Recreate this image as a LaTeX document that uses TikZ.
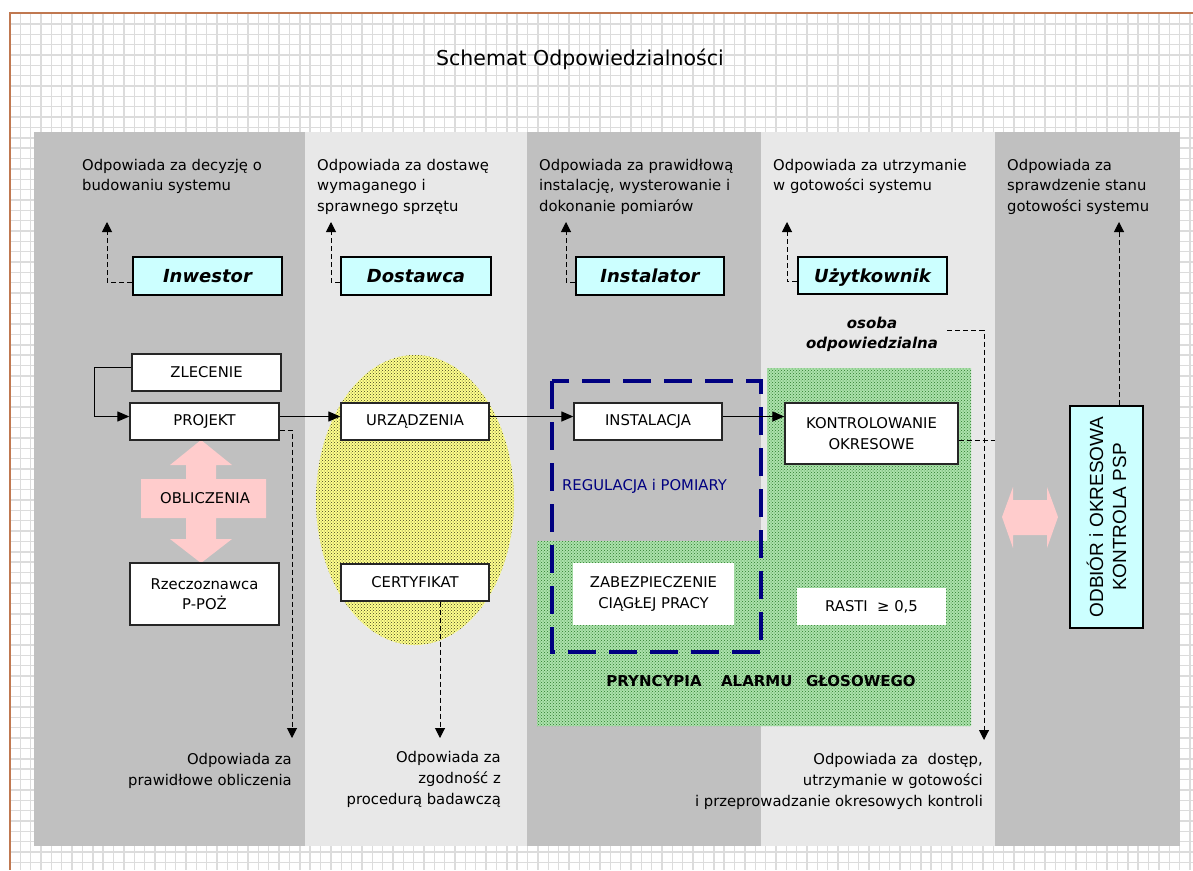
\documentclass[tikz,border=0pt]{standalone}
\usepackage{fontspec}
\setmainfont{DejaVu Sans}
\newfontfamily\arialf{Liberation Sans}
\usetikzlibrary{arrows.meta,patterns}
\definecolor{colDark}{HTML}{C0C0C0}
\definecolor{colLight}{HTML}{E8E8E8}
\definecolor{gridc}{HTML}{DCDCDC}
\definecolor{borderc}{HTML}{C07850}
\definecolor{cyanf}{HTML}{CCFFFF}
\definecolor{pinkf}{HTML}{FFCCCC}
\definecolor{navyc}{HTML}{000080}
\definecolor{yellowf}{HTML}{FFFF8C}
\definecolor{yellowd}{HTML}{404020}
\definecolor{greenf}{HTML}{ACE2AC}
\definecolor{greend}{HTML}{2A7A2A}
\begin{document}
\begin{tikzpicture}[x=1pt,y=-1pt,
  every node/.style={inner sep=0pt},
  txt/.style={font=\fontsize{14.8}{20.5}\selectfont, align=left},
  txtr/.style={font=\fontsize{14.8}{21}\selectfont, align=right},
  wbox/.style={draw=black!85, fill=white, line width=1.3pt, font=\fontsize{14.8}{20.5}\selectfont, align=center},
  plainbox/.style={fill=white, font=\fontsize{14.8}{20.5}\selectfont, align=center},
  rolebox/.style={draw=black, fill=cyanf, line width=2pt, text height=13pt, text depth=0pt, font=\fontsize{18}{20}\selectfont\bfseries\itshape},
  conn/.style={draw=black, line width=1.2pt, -{Triangle[length=12pt,width=10pt]}},
  dconn/.style={draw=black, line width=1pt, dash pattern=on 5pt off 3pt, -{Triangle[length=10pt,width=10pt]}},
  dline/.style={draw=black, line width=1pt, dash pattern=on 5pt off 3pt},
  gridln/.style={draw=gridc, line width=1.4pt},
]
\useasboundingbox (0,0) rectangle (1193,870);
\fill[white] (0,0) rectangle (1193,870);
% grid
\foreach \i in {0,...,114} { \draw[gridln] ({10+10.35*\i},13) -- ({10+10.35*\i},870); }
\foreach \j in {0,...,83} { \draw[gridln] (10,{13.6+10.35*\j}) -- (1193,{13.6+10.35*\j}); }
\draw[borderc, line width=1.2pt] (1193,13) -- (10,13) -- (10,870);
% columns
\fill[colDark] (34,132) rectangle (305,846);
\fill[colLight] (305,132) rectangle (527,846);
\fill[colDark] (527,132) rectangle (761,846);
\fill[colLight] (761,132) rectangle (995,846);
\fill[colDark] (995,132) rectangle (1180,846);
% title
\node[font=\fontsize{20.5}{24}\selectfont, anchor=base] (title) at (580,65) {Schemat Odpowiedzialności};
% ellipse
\path[fill=yellowf] (415,500) ellipse [x radius=99pt, y radius=145pt];
\path[pattern=crosshatch dots, pattern color=yellowd] (415,500) ellipse [x radius=99pt, y radius=145pt];
% green region
\path[fill=greenf] (537,541) -- (767,541) -- (767,368) -- (971,368) -- (971,726) -- (537,726) -- cycle;
\path[pattern=crosshatch dots, pattern color=greend] (537,541) -- (767,541) -- (767,368) -- (971,368) -- (971,726) -- (537,726) -- cycle;
% blue dashed rectangle
\draw[navyc, line width=3.5pt, dash pattern=on 28pt off 13pt] (552,381) rectangle (761,652);
\node[txt, text=navyc, anchor=base west] (regul) at (562,490) {REGULACJA i POMIARY};
% top descriptions
\node[txt, anchor=north west] (d1) at (82,159) {Odpowiada za decyzję o\\budowaniu systemu};
\node[txt, anchor=north west] (d2) at (317,159) {Odpowiada za dostawę\\wymaganego i\\sprawnego sprzętu};
\node[txt, anchor=north west] (d3) at (539,159) {Odpowiada za prawidłową\\instalację, wysterowanie i\\dokonanie pomiarów};
\node[txt, anchor=north west] (d4) at (773,159) {Odpowiada za utrzymanie\\w gotowości systemu};
\node[txt, anchor=north west] (d5) at (1007,159) {Odpowiada za\\sprawdzenie stanu\\gotowości systemu};
% role boxes
\node[rolebox, minimum width=149pt, minimum height=38pt] (inw) at (207.5,276) {Inwestor};
\node[rolebox, minimum width=150pt, minimum height=38pt] (dost) at (416,276) {Dostawca};
\node[rolebox, minimum width=148pt, minimum height=38pt] (instr) at (650,276) {Instalator};
\node[rolebox, minimum width=149pt, minimum height=37pt] (uzyt) at (872.5,275.5) {Użytkownik};
\coordinate (inwUp) at (107,222);
\coordinate (dostUp) at (331,222);
\coordinate (instrUp) at (566,222);
\coordinate (uzytUp) at (787,222);
\draw[dconn] ([yshift=-6pt]inw.west) -| (inwUp);
\draw[dconn] ([yshift=-6pt]dost.west) -| (dostUp);
\draw[dconn] ([yshift=-6pt]instr.west) -| (instrUp);
\draw[dconn] ([yshift=-6pt]uzyt.west) -| (uzytUp);
% pink vertical double arrow
\fill[pinkf] (201,440) -- (232,465) -- (216,465) -- (216,479) -- (266,479) -- (266,518) -- (216,518) -- (216,539) -- (232,539) -- (201,563) -- (170,539) -- (186,539) -- (186,518) -- (141,518) -- (141,479) -- (186,479) -- (186,465) -- (170,465) -- cycle;
\node[font=\fontsize{14.8}{18}\selectfont] (oblicz) at (205,498) {OBLICZENIA};
% boxes
\node[wbox, minimum width=149pt, minimum height=37pt] (zlec) at (206.5,372.5) {ZLECENIE};
\node[wbox, minimum width=149pt, minimum height=37pt] (proj) at (204.5,421.5) {PROJEKT};
\node[wbox, minimum width=149pt, minimum height=62pt] (rzecz) at (204.5,594) {Rzeczoznawca\\P-POŻ};
\node[wbox, minimum width=148pt, minimum height=37pt] (urz) at (415,421.5) {URZĄDZENIA};
\node[wbox, minimum width=148pt, minimum height=37pt] (cert) at (415,582.5) {CERTYFIKAT};
\node[wbox, minimum width=148pt, minimum height=37pt] (inst) at (648,421.5) {INSTALACJA};
\node[wbox, minimum width=173pt, minimum height=61pt] (kont) at (871.5,433.5) {KONTROLOWANIE\\OKRESOWE};
\node[plainbox, minimum width=161pt, minimum height=62pt] (zab) at (653.5,594) {ZABEZPIECZENIE\\CIĄGŁEJ PRACY};
\node[plainbox, minimum width=149pt, minimum height=37pt] (rasti) at (871.5,606.5) {RASTI\ \ ≥ 0,5};
\node[font=\fontsize{15}{18}\selectfont\bfseries, anchor=base] (prync) at (761,686) {PRYNCYPIA\hspace{1.3em}ALARMU\hspace{0.9em}GŁOSOWEGO};
\node[font=\fontsize{15}{20}\selectfont\bfseries\itshape, align=center, anchor=north] (osoba) at (872,317) {osoba\\odpowiedzialna};
% solid connectors
\draw[conn] ([yshift=5pt]zlec.west) -- ++(-37,0) |- ([yshift=5pt]proj.west);
\draw[conn] ([yshift=5pt]proj.east) -- ([yshift=5pt]urz.west);
\draw[conn] ([yshift=5pt]urz.east) -- ([yshift=5pt]inst.west);
\coordinate (ik) at ([yshift=5pt]inst.east);
\draw[conn] (ik) -- (ik -| kont.west);
% dashed connectors downwards
\coordinate (projDown) at (292,738);
\draw[dconn] ([yshift=-8.5pt]proj.east) -| (projDown);
\coordinate (certDown) at (440,738);
\draw[dconn] ([xshift=25pt]cert.south) -- (certDown);
\coordinate (osobaDown) at (984,740);
\draw[dconn] ([xshift=9pt,yshift=4pt]osoba.east) -| (osobaDown);
\coordinate (kontEnd) at (995,440);
\draw[dline] ([yshift=-6.5pt]kont.east) -- (kontEnd);
% bottom descriptions
\node[txtr, anchor=north east] (b1) at (292,753.5) {Odpowiada za\\prawidłowe obliczenia};
\node[txtr, anchor=north east] (b2) at (501,751) {Odpowiada za\\zgodność z\\procedurą badawczą};
\node[txtr, anchor=north east] (b4) at (983,753.5) {Odpowiada za\ \ dostęp,\\utrzymanie w gotowości\\i przeprowadzanie okresowych kontroli};
% pink horizontal double arrow
\fill[pinkf] (1002,517) -- (1013,487) -- (1013,500) -- (1047,500) -- (1047,487) -- (1058,517) -- (1047,548) -- (1047,535) -- (1013,535) -- (1013,548) -- cycle;
% ODBIOR box
\node[draw=black, fill=cyanf, line width=1.5pt, minimum width=73pt, minimum height=222pt] (odb) at (1106.5,517) {};
\node[rotate=90, font=\arialf\fontsize{19}{23}\selectfont, align=center] (odbtxt) at (odb.center) {ODBIÓR i OKRESOWA\\KONTROLA PSP};
\coordinate (odbUp) at (1119,222);
\draw[dconn] ([xshift=12.5pt]odb.north) -- (odbUp);
\end{tikzpicture}
\end{document}
